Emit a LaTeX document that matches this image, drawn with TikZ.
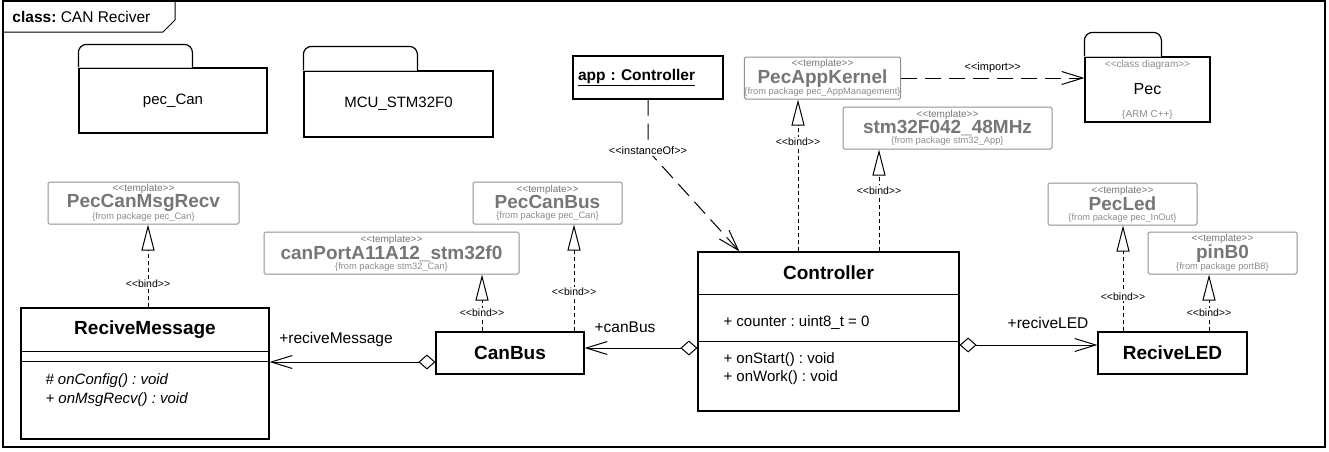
\documentclass[tikz,border=0pt]{standalone}
\usepackage{fontspec}
\setmainfont{Liberation Sans}
\usetikzlibrary{arrows.meta,positioning,calc}
\definecolor{tgray}{RGB}{118,118,118}
\definecolor{lgray}{RGB}{140,140,140}
\definecolor{sgray}{RGB}{192,192,192}
\newcommand{\ster}[1]{<{}<#1>{}>}
\newcommand{\tname}[1]{{\fontsize{19}{19}\selectfont\bfseries #1}}
\newcommand{\pkgfrom}[1]{{\fontsize{9.3}{9.3}\selectfont\color{lgray}\{from package #1\}}}
\frenchspacing

\begin{document}
\begin{tikzpicture}[x=1pt, y=-1pt, line width=1pt, every node/.style={font=\fontsize{15}{18}\selectfont, inner sep=0pt}, cls/.style={draw, line width=1.2pt, minimum height=42, font=\fontsize{19}{22}\selectfont\bfseries}, clsname/.style={font=\fontsize{19}{22}\selectfont\bfseries}, tmpl/.style={draw=tgray!80, rounded corners=1.5pt, minimum height=42, align=center, text=tgray, font=\fontsize{10}{10}\selectfont}, pkg/.style={draw, line width=1.2pt, rounded corners=8pt}, member/.style={anchor=west}, stereo/.style={font=\fontsize{10.5}{11}\selectfont, fill=white, inner sep=1pt}, bind/.style={dash pattern=on 4pt off 3pt, -{Triangle[open, length=26pt, width=13pt]}}, dep/.style={dash pattern=on 16pt off 8pt, -{Straight Barb[length=21pt, width=13pt]}}, assoc/.style={{Diamond[open, length=17pt, width=15pt]}-{Straight Barb[length=21pt, width=13pt]}}]
\useasboundingbox (0,0) rectangle (1329,451);
\draw[line width=1.2pt] (3,1) rectangle (1325,447);
\draw (3,32) -- (163,32) -- (175,20) -- (175,1);
\node[anchor=base west, font=\fontsize{15.5}{18}\selectfont] (title) at (12,22) {\textbf{class:} CAN Reciver};
\node[draw, line width=1.2pt, minimum width=188, minimum height=65] (pecan) at (173,100.5) {pec\_Can};
\draw[pkg] (pecan.north west) -- ++(0,-23) -- ++(114,0) -- ++(0,23);
\draw[sgray, line width=1.2pt] (pecan.north west) -- ++(114,0);
\node[draw, line width=1.2pt, minimum width=189, minimum height=66] (mcu) at (398.5,104) {MCU\_STM32F0};
\draw[pkg] (mcu.north west) -- ++(0,-24) -- ++(114,0) -- ++(0,24);
\draw[sgray, line width=1.2pt] (mcu.north west) -- ++(114,0);
\node[draw, line width=1.2pt, minimum width=125, minimum height=65, font=\fontsize{16}{18}\selectfont] (pec) at (1147.5,89.5) {Pec};
\draw[pkg] (pec.north west) -- ++(0,-24) -- ++(77,0) -- ++(0,24);
\draw[sgray, line width=1.2pt] (pec.north west) -- ++(77,0);
\node[below=3pt of pec.north, text=lgray, font=\fontsize{10}{10}\selectfont] (pecst) {\ster{class diagram}};
\node[above=3pt of pec.south, text=lgray, font=\fontsize{10}{10}\selectfont] (pecarm) {\{ARM C++\}};
\node[draw, line width=1.2pt, minimum width=150, minimum height=43, text width=140pt, align=left, font=\fontsize{15.5}{18}\selectfont\bfseries] (app) at (648,77.5) {\underline{app : Controller}};
\node[tmpl, minimum width=149] (appkernel) at (822.5,78) {\ster{template}\\\tname{PecAppKernel}\\\pkgfrom{pec\_AppManagement}};
\node[tmpl, minimum width=209] (stm) at (947.5,128) {\ster{template}\\\tname{stm32F042\_48MHz}\\\pkgfrom{stm32\_App}};
\node[tmpl, minimum width=191] (msgrecv) at (143.5,203) {\ster{template}\\\tname{PecCanMsgRecv}\\\pkgfrom{pec\_Can}};
\node[tmpl, minimum width=149] (pccanbus) at (547.5,203) {\ster{template}\\\tname{PecCanBus}\\\pkgfrom{pec\_Can}};
\node[tmpl, minimum width=255] (canport) at (391.5,253) {\ster{template}\\\tname{canPortA11A12\_stm32f0}\\\pkgfrom{stm32\_Can}};
\node[tmpl, minimum width=149] (pecled) at (1122.5,204) {\ster{template}\\\tname{PecLed}\\\pkgfrom{pec\_InOut}};
\node[tmpl, minimum width=149] (pinb0) at (1222.5,253) {\ster{template}\\\tname{pinB0}\\\pkgfrom{portB8}};
\node[cls, minimum width=248, minimum height=131] (recvmsg) at (145,373.5) {};
\node[clsname] (recvmsgname) at ($(recvmsg.north)+(0,22)$) {ReciveMessage};
\draw[line width=1.2pt] ($(recvmsg.north west)+(0,44)$) -- ($(recvmsg.north east)+(0,44)$);
\draw[line width=1.2pt] ($(recvmsg.north west)+(0,54)$) -- ($(recvmsg.north east)+(0,54)$);
\node[member, font=\fontsize{15}{18}\selectfont\itshape] (oncfg) at (45,381) {\# onConfig() : void};
\node[member, font=\fontsize{15}{18}\selectfont\itshape] (onmsg) at (45,400) {+ onMsgRecv() : void};
\node[cls, minimum width=148] (canbus) at (510,353) {CanBus};
\node[cls, minimum width=261, minimum height=159] (ctrl) at (828.5,331.5) {};
\node[clsname] (ctrlname) at ($(ctrl.north)+(0,21.5)$) {Controller};
\draw[line width=1.2pt] ($(ctrl.north west)+(0,43)$) -- ($(ctrl.north east)+(0,43)$);
\draw[line width=1.2pt] ($(ctrl.north west)+(0,90)$) -- ($(ctrl.north east)+(0,90)$);
\node[member] (cnt) at (723,323) {+ counter : uint8\_t = 0};
\node[member] (onstart) at (723,360) {+ onStart() : void};
\node[member] (onwork) at (723,378) {+ onWork() : void};
\node[cls, minimum width=149] (led) at (1172.5,353) {ReciveLED};
\coordinate (cb) at ($(ctrl.west)+(0,16.5)$);
\coordinate (lb) at ($(ctrl.east)+(0,13.5)$);
\coordinate (rb) at ($(canbus.west)+(0,9)$);
\draw[assoc] (cb) -- (cb -| canbus.east);
\draw[assoc] (lb) -- (lb -| led.west);
\draw[assoc] (rb) -- (rb -| recvmsg.east);
\node[font=\fontsize{15.5}{18}\selectfont] (canbuslbl) at (625,327) {+canBus};
\node[font=\fontsize{15.5}{18}\selectfont] (ledlbl) at (1048,323) {+reciveLED};
\node[font=\fontsize{15.5}{18}\selectfont] (recvmsglbl) at (336,339) {+reciveMessage};
\coordinate (b1) at ($(recvmsg.north)+(3,0)$);
\coordinate (b2) at ($(canbus.north)+(-28,0)$);
\coordinate (b3) at ($(canbus.north)+(64,0)$);
\coordinate (b4) at ($(ctrl.north)+(-30.5,0)$);
\coordinate (b5) at ($(ctrl.north)+(50.5,0)$);
\coordinate (b6) at ($(led.north)+(-49.5,0)$);
\coordinate (b7) at ($(led.north)+(36.5,0)$);
\draw[bind] (b1) -- (b1 |- msgrecv.south) node[stereo, pos=0.29] (bl1) {\ster{bind}};
\draw[bind] (b2) -- (b2 |- canport.south) node[stereo, pos=0.33] (bl2) {\ster{bind}};
\draw[bind] (b3) -- (b3 |- pccanbus.south) node[stereo, pos=0.37] (bl3) {\ster{bind}};
\draw[bind] (b4) -- (b4 |- appkernel.south) node[stereo, pos=0.72] (bl4) {\ster{bind}};
\draw[bind] (b5) -- (b5 |- stm.south) node[stereo, pos=0.6] (bl5) {\ster{bind}};
\draw[bind] (b6) -- (b6 |- pecled.south) node[stereo, pos=0.33] (bl6) {\ster{bind}};
\draw[bind] (b7) -- (b7 |- pinb0.south) node[stereo, pos=0.33] (bl7) {\ster{bind}};
\draw[dep] (appkernel.east) -- (appkernel.east -| pec.west) node[midway, above=5pt, font=\fontsize{11}{11}\selectfont] (implbl) {\ster{import}};
\coordinate (io) at ($(app.south)+(0,51)$);
\draw[dep] (app.south) -- (io) -- ($(ctrl.north west)+(42,0)$);
\node[stereo, font=\fontsize{11}{11}\selectfont] (iolbl) at (io) {\ster{instanceOf}};
\end{tikzpicture}
\end{document}
